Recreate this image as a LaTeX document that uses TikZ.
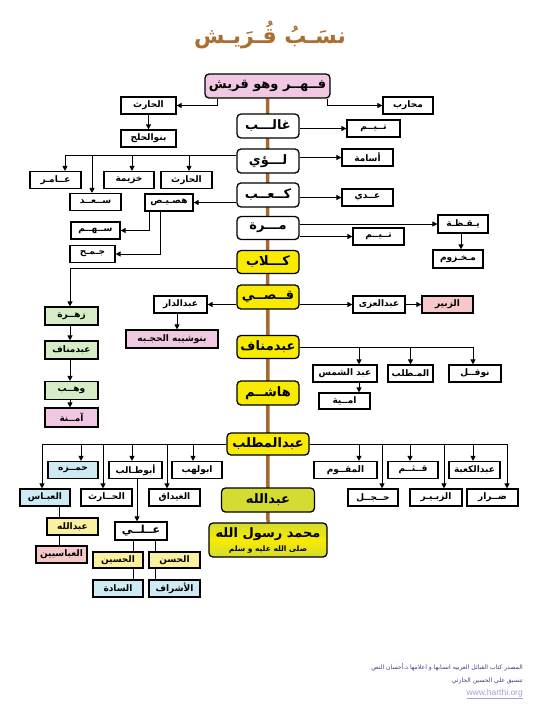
\documentclass[tikz,border=0pt]{standalone}
\usepackage{fontspec}
\setmainfont{Liberation Sans}
\newfontfamily\arfont[Script=Arabic]{DejaVu Sans}
\TeXXeTstate=1
\usetikzlibrary{arrows.meta,backgrounds}
\newcommand\artxt[1]{{\arfont\beginR #1\endR}}
\definecolor{spinebrown}{RGB}{165,105,50}
\definecolor{titlebrown}{RGB}{170,110,50}
\definecolor{pinkfill}{RGB}{240,200,225}
\definecolor{yellowfill}{RGB}{248,234,0}
\definecolor{olivefill}{RGB}{212,220,50}
\definecolor{greenfill}{RGB}{214,236,198}
\definecolor{bluefill}{RGB}{206,234,242}
\definecolor{redfill}{RGB}{246,200,202}
\definecolor{lyellowfill}{RGB}{250,240,160}
\definecolor{footblue}{RGB}{60,60,140}
\definecolor{linkpurple}{RGB}{160,160,210}
\tikzset{
  mainbox/.style={draw, rounded corners=4pt, line width=1.3pt, fill=white, inner sep=0pt,
    minimum width=62pt, minimum height=24pt, font=\fontsize{13}{15}\selectfont\bfseries},
  sbox/.style={draw, line width=1.2pt, fill=white, inner sep=0pt, minimum height=17pt,
    font=\fontsize{9}{11}\selectfont\bfseries},
  arr/.style={line width=0.9pt, -{Triangle[length=5pt,width=5pt]}},
  plainline/.style={line width=0.9pt},
  spine/.style={line width=3.5pt, spinebrown},
}
\begin{document}
\begin{tikzpicture}[x=1pt,y=-1pt]
\useasboundingbox (0,0) rectangle (537,718);
% title
\node[text=titlebrown, font=\fontsize{22}{26}\selectfont\bfseries] (title) at (270,35) {\artxt{نسَـبُ قُـرَيـش}};
% main spine
\node[mainbox, minimum width=125pt, fill=pinkfill] (fahr) at (267.5,86) {\artxt{فــهــر وهو قريش}};
\node[mainbox] (ghalib) at (268,126) {\artxt{غالـــب}};
\node[mainbox] (luay) at (268,161) {\artxt{لـــؤي}};
\node[mainbox] (kaab) at (268,195) {\artxt{كــعــب}};
\node[mainbox, minimum height=23pt] (murra) at (268,228) {\artxt{مـــرة}};
\node[mainbox, minimum height=23pt, fill=yellowfill] (kilab) at (268,262) {\artxt{كـــلاب}};
\node[mainbox, fill=yellowfill] (qusay) at (268,297) {\artxt{قــصــي}};
\node[mainbox, minimum height=23pt, fill=yellowfill] (abdmanaf) at (268,347) {\artxt{عبدمناف}};
\node[mainbox, fill=yellowfill] (hashim) at (268,393) {\artxt{هاشــم}};
\node[mainbox, minimum width=82pt, minimum height=22pt, fill=yellowfill] (abdmuttalib) at (268,444) {\artxt{عبدالمطلب}};
\node[mainbox, minimum width=93pt, fill=olivefill] (abdullah) at (268,500) {\artxt{عبدالله}};
\node[mainbox, minimum width=118pt, minimum height=34pt, top color=olivefill, bottom color=olivefill, middle color=yellowfill, align=center] (muhammad) at (268,540)
  {\artxt{محمد رسول الله}\\[-1pt]{\fontsize{7.5}{9}\selectfont\artxt{صلى الله عليه و سلم}}};
\begin{pgfonlayer}{background}
\draw[spine] (fahr.south) -- (muhammad.north);
\end{pgfonlayer}
% top side
\node[sbox, minimum width=55pt] (harithA) at (148.5,105.5) {\artxt{الحارث}};
\node[sbox, minimum width=55pt] (banuhalaj) at (148.5,138.5) {\artxt{بنوالحلج}};
\node[sbox, minimum width=50pt] (muharib) at (408,105.5) {\artxt{محارب}};
\node[sbox, minimum width=53pt] (taymA) at (373.5,128.5) {\artxt{تــيــم}};
\node[sbox, minimum width=51pt] (usama) at (367.5,157.5) {\artxt{أسامة}};
\draw[arr] ([xshift=-50.5pt]fahr.south) |- (harithA);
\draw[arr] ([xshift=59.5pt]fahr.south) |- (muharib);
\draw[arr] (harithA) -- (banuhalaj);
\draw[arr] (ghalib.east |- taymA) -- (taymA);
\draw[arr] (luay.east |- usama) -- (usama);
% luay left branch
\node[sbox, minimum width=51pt] (harithB) at (186.5,180) {\artxt{الحارث}};
\node[sbox, minimum width=50pt] (khuzayma) at (129,180) {\artxt{خزيمة}};
\node[sbox, minimum width=51pt] (amir) at (55.5,180) {\artxt{عــامـر}};
\node[sbox, minimum width=51pt] (saad) at (95.5,202) {\artxt{ســعــد}};
\draw[arr] ([yshift=6pt]luay.west) -| ([xshift=9.5pt]amir.north);
\draw[arr] ([yshift=6pt]luay.west) -| ([xshift=-3.5pt]saad.north);
\draw[arr] ([yshift=6pt]luay.west) -| ([xshift=3pt]khuzayma.north);
\draw[arr] ([yshift=6pt]luay.west) -| ([xshift=2.5pt]harithB.north);
% kaab
\node[sbox, minimum width=48pt] (husays) at (169,202.5) {\artxt{هصـيـص}};
\node[sbox, minimum width=51pt] (adi) at (367.5,197.5) {\artxt{عــدي}};
\node[sbox, minimum width=49pt] (sahm) at (95.5,230.5) {\artxt{ســهــم}};
\node[sbox, minimum width=45pt] (jumah) at (92.5,254) {\artxt{جـمـح}};
\draw[arr] (kaab.west |- husays) -- (husays);
\draw[arr] (kaab.east |- adi) -- (adi);
\draw[arr] ([xshift=-20pt]husays.south) |- (sahm);
\draw[arr] ([xshift=-9pt]husays.south) |- (jumah);
% murra
\node[sbox, minimum width=50pt, minimum height=18pt] (yaqaza) at (463,224) {\artxt{يـقـظـة}};
\node[sbox, minimum width=50pt, minimum height=18pt] (makhzum) at (458,259) {\artxt{مـخـزوم}};
\node[sbox, minimum width=51pt] (taymB) at (378.5,236.5) {\artxt{تــيــم}};
\draw[arr] (murra.east |- yaqaza) -- (yaqaza);
\draw[arr] (murra.east |- taymB) -- (taymB);
\draw[arr] ([xshift=-2pt]yaqaza.south) -- ([xshift=-2pt]yaqaza.south |- makhzum.north);
% kilab -> zuhra line
\node[sbox, minimum width=53pt, minimum height=18pt, fill=greenfill] (zuhra) at (71.5,316) {\artxt{زهــرة}};
\node[sbox, minimum width=53pt, minimum height=18pt, fill=greenfill] (abdmanafB) at (71.5,350) {\artxt{عبدمناف}};
\node[sbox, minimum width=53pt, minimum height=18pt, fill=greenfill] (wahb) at (71.5,390.5) {\artxt{وهــب}};
\node[sbox, minimum width=53pt, minimum height=19pt, fill=pinkfill] (amina) at (71.5,417.5) {\artxt{آمــنة}};
\draw[arr] ([yshift=-6pt]kilab.west) -| ([xshift=-1.5pt]zuhra.north);
\draw[arr] ([xshift=-1.5pt]zuhra.south) -- ([xshift=-1.5pt]abdmanafB.north);
\draw[arr] ([xshift=-1.5pt]abdmanafB.south) -- ([xshift=-1.5pt]wahb.north);
\draw[arr] ([xshift=-1.5pt]wahb.south) -- ([xshift=-1.5pt]amina.north);
% qusay
\node[sbox, minimum width=53pt] (abddar) at (180.5,304.5) {\artxt{عبدالدار}};
\node[sbox, minimum width=92pt, minimum height=18pt, fill=pinkfill] (banushayba) at (172,339) {\artxt{بنوشيبه الحجـبه}};
\node[sbox, minimum width=52pt] (abduzza) at (379,304.5) {\artxt{عبدالعزى}};
\node[sbox, minimum width=51pt, fill=redfill] (zubayrA) at (447.5,304.5) {\artxt{الزبير}};
\draw[arr] (qusay.west |- abddar) -- (abddar);
\draw[arr] ([xshift=-3.5pt]abddar.south) -- ([xshift=-3.5pt]abddar.south |- banushayba.north);
\draw[arr] (qusay.east |- abduzza) -- (abduzza);
\draw[arr] (abduzza) -- (zubayrA);
% abdmanaf
\node[sbox, minimum width=64pt] (abdshams) at (345,373.5) {\artxt{عبد الشمس}};
\node[sbox, minimum width=45pt] (muttalib) at (410.5,373.5) {\artxt{المـطلب}};
\node[sbox, minimum width=52pt] (nawfal) at (475,373.5) {\artxt{نوفــل}};
\node[sbox, minimum width=51pt, minimum height=16pt] (umayya) at (344.5,401) {\artxt{امــية}};
\draw[arr] (abdmanaf.east) -| ([xshift=14pt]abdshams.north);
\draw[arr] (abdmanaf.east) -| (muttalib.north);
\draw[arr] (abdmanaf.east) -| ([xshift=-2pt]nawfal.north);
\draw[arr] ([xshift=14pt]abdshams.south) -- ([xshift=14pt]abdshams.south |- umayya.north);
% abdmuttalib children
\node[sbox, minimum width=50pt, fill=bluefill] (hamza) at (73,470) {\artxt{حمــزه}};
\node[sbox, minimum width=53pt] (abutalib) at (135.5,470) {\artxt{أبوطـالب}};
\node[sbox, minimum width=50pt] (abulahab) at (197,470) {\artxt{ابولهب}};
\node[sbox, minimum width=63pt] (muqawwam) at (345.5,470) {\artxt{المقــوم}};
\node[sbox, minimum width=50pt] (qutham) at (413,470) {\artxt{قــثــم}};
\node[sbox, minimum width=51pt] (abdkaaba) at (474.5,470) {\artxt{عبدالكعبة}};
\node[sbox, minimum width=50pt, fill=bluefill] (abbas) at (45,497.5) {\artxt{العبـاس}};
\node[sbox, minimum width=51pt] (harithC) at (106.5,497.5) {\artxt{الحــارث}};
\node[sbox, minimum width=51pt] (ghaydaq) at (174.5,497.5) {\artxt{الغيداق}};
\node[sbox, minimum width=50pt] (hajl) at (373,497.5) {\artxt{حــجــل}};
\node[sbox, minimum width=52pt] (zubayrB) at (436,497.5) {\artxt{الزبـيـر}};
\node[sbox, minimum width=51pt] (dirar) at (492.5,497.5) {\artxt{ضــرار}};
\draw[arr] (abdmuttalib.west) -| ([xshift=-3pt]abbas.north);
\draw[arr] (abdmuttalib.west) -| ([xshift=8pt]hamza.north);
\draw[arr] (abdmuttalib.west) -| ([xshift=-3.5pt]harithC.north);
\draw[arr] (abdmuttalib.west) -| ([xshift=-3.5pt]abutalib.north);
\draw[arr] (abdmuttalib.west) -| ([xshift=-7.5pt]ghaydaq.north);
\draw[arr] (abdmuttalib.west) -| ([xshift=-4pt]abulahab.north);
\draw[arr] (abdmuttalib.east) -| ([xshift=13.5pt]muqawwam.north);
\draw[arr] (abdmuttalib.east) -| ([xshift=9pt]hajl.north);
\draw[arr] (abdmuttalib.east) -| ([xshift=-3pt]qutham.north);
\draw[arr] (abdmuttalib.east) -| ([xshift=8pt]zubayrB.north);
\draw[arr] (abdmuttalib.east) -| ([xshift=-1.5pt]abdkaaba.north);
\draw[arr] (abdmuttalib.east) -| ([xshift=14.5pt]dirar.north);
% lower left
\node[sbox, minimum width=51pt, fill=lyellowfill] (abdullahB) at (72.5,526.5) {\artxt{عبدالله}};
\node[sbox, minimum width=51pt, fill=redfill] (abbasiyyin) at (61.5,554.5) {\artxt{العباسيين}};
\node[sbox, minimum width=52pt, minimum height=18pt, font=\fontsize{11}{13}\selectfont\bfseries] (ali) at (141,531) {\artxt{عــلــي}};
\node[sbox, minimum width=50pt, minimum height=16pt, fill=lyellowfill] (husayn) at (118,560) {\artxt{الحسين}};
\node[sbox, minimum width=51pt, minimum height=16pt, fill=lyellowfill] (hasan) at (174.5,560) {\artxt{الحسن}};
\node[sbox, minimum width=50pt, fill=bluefill] (sada) at (118,588.5) {\artxt{السادة}};
\node[sbox, minimum width=51pt, fill=bluefill] (ashraf) at (174.5,588.5) {\artxt{الأشراف}};
\draw[arr] ([xshift=1.5pt]abutalib.south) -- ([xshift=1.5pt]abutalib.south |- ali.north);
\draw[plainline] ([xshift=14pt]abbas.south) -- ([xshift=14pt]abbas.south |- abdullahB.north);
\draw[plainline] ([xshift=-13.5pt]abdullahB.south) -- ([xshift=-13.5pt]abdullahB.south |- abbasiyyin.north);
\draw[plainline] ([xshift=-8pt]ali.south) -- ([xshift=-8pt]ali.south |- husayn.north);
\draw[plainline] ([xshift=14pt]ali.south) -- ([xshift=14pt]ali.south |- hasan.north);
\draw[plainline] ([xshift=15pt]husayn.south) -- ([xshift=15pt]husayn.south |- sada.north);
\draw[plainline] ([xshift=-19.5pt]hasan.south) -- ([xshift=-19.5pt]hasan.south |- ashraf.north);
% footer
\node[anchor=east, text=footblue, inner sep=0pt, font=\fontsize{6.1}{8}\selectfont] (foot1) at (523,667) {\artxt{المصدر كتاب القبائل العربيه انسابها و اعلامها د.أحسان النص}};
\node[anchor=east, text=footblue, inner sep=0pt, font=\fontsize{6.1}{8}\selectfont] (foot2) at (523,681) {\artxt{تنسيق علي الحسين الحارثي}};
\node[anchor=east, text=linkpurple, inner sep=0pt, font=\fontsize{8.5}{10}\selectfont] (foot3) at (523,694) {\underline{www.harthi.org}};
\end{tikzpicture}
\end{document}
